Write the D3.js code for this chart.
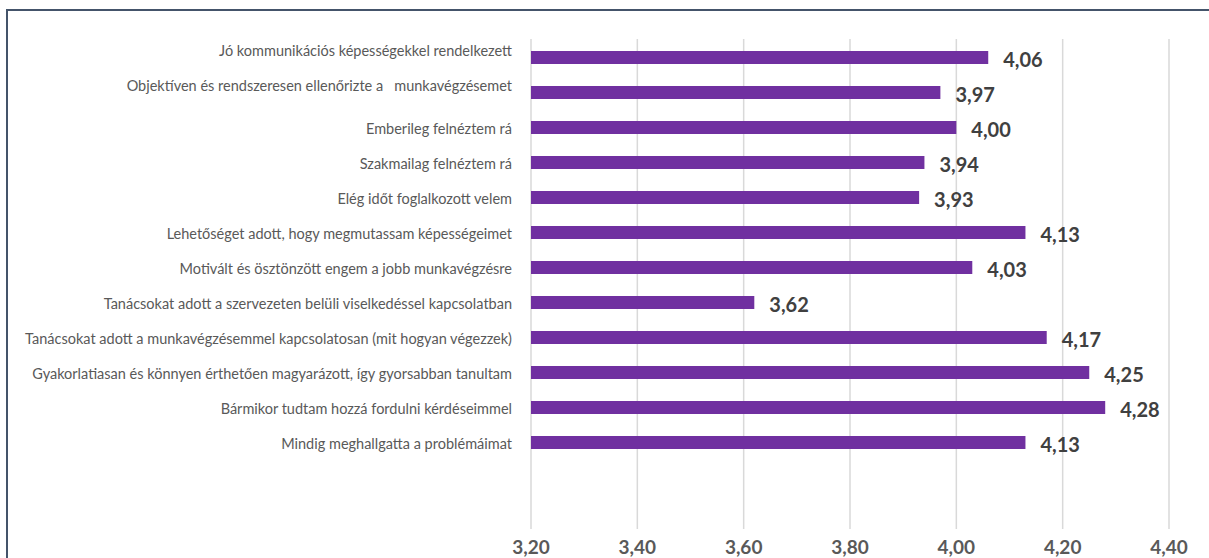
<!DOCTYPE html>
<html>
<head>
<meta charset="utf-8">
<script src="https://cdn.jsdelivr.net/npm/d3@7"></script>
<style>
  html, body { margin: 0; padding: 0; background: #fff; }
  svg { display: block; }
  text { font-family: Lato, "Open Sans", sans-serif; white-space: pre; }
</style>
</head>
<body>
<svg id="chart" width="1209" height="558"></svg>
<script>
// categories top to bottom; a trailing "\n" means the label had an empty second line
const categories = [
    "Jó kommunikációs képességekkel rendelkezett\n",
    "Objektíven és rendszeresen ellenőrizte a   munkavégzésemet\n",
    "Emberileg felnéztem rá",
    "Szakmailag felnéztem rá",
    "Elég időt foglalkozott velem",
    "Lehetőséget adott, hogy megmutassam képességeimet",
    "Motivált és ösztönzött engem a jobb munkavégzésre",
    "Tanácsokat adott a szervezeten belüli viselkedéssel kapcsolatban",
    "Tanácsokat adott a munkavégzésemmel kapcsolatosan (mit hogyan végezzek)",
    "Gyakorlatiasan és könnyen érthetően magyarázott, így gyorsabban tanultam",
    "Bármikor tudtam hozzá fordulni kérdéseimmel",
    "Mindig meghallgatta a problémáimat"
];
const values = [4.06, 3.97, 4.00, 3.94, 3.93, 4.13, 4.03, 3.62, 4.17, 4.25, 4.28, 4.13];
const xTicks = [3.2, 3.4, 3.6, 3.8, 4.0, 4.2, 4.4];
const xDomain = [3.2, 4.4];

const svg = d3.select("#chart");
const fmt = v => d3.format(".2f")(v).replace(".", ",");

// frame (runs off the right and bottom edge)
svg.append("rect")
    .attr("x", 7).attr("y", 10).attr("width", 1240).attr("height", 600)
    .attr("fill", "none").attr("stroke", "#44546a").attr("stroke-width", 2);

const plotTop = 39, plotBottom = 529;
const x = d3.scaleLinear().domain(xDomain).range([531, 1169]);
// 14 slots, the last two stay empty
const slots = categories.map((d, i) => i).concat([12, 13]);
const y = d3.scaleBand().domain(slots).range([plotTop, plotBottom]);

// gridlines
svg.append("g").selectAll("line").data(xTicks).enter().append("line")
    .attr("x1", d => x(d)).attr("x2", d => x(d))
    .attr("y1", plotTop).attr("y2", plotBottom)
    .attr("stroke", "#d9d9d9").attr("stroke-width", 1.5);

// bars
const barH = 13;
svg.append("g").selectAll("rect").data(values).enter().append("rect")
    .attr("x", x(xDomain[0]))
    .attr("y", (d, i) => y(i) + y.bandwidth() / 2 - barH / 2 + 1)
    .attr("width", d => x(d) - x(xDomain[0]))
    .attr("height", barH)
    .attr("fill", "#7030a0");

// value labels
svg.append("g").selectAll("text").data(values).enter().append("text")
    .attr("x", d => x(d) + 15)
    .attr("y", (d, i) => y(i) + y.bandwidth() / 2 + 2)
    .attr("dominant-baseline", "central")
    .attr("font-size", 20).attr("font-weight", "bold")
    .attr("fill", "#404040")
    .text(fmt);

// category labels
const lineH = 16;
const labels = svg.append("g").selectAll("text").data(categories).enter().append("text")
    .attr("text-anchor", "end")
    .attr("font-size", 14.5)
    .attr("fill", "#595959");
labels.each(function(d, i) {
    const lines = d.split("\n");
    const cy = y(i) + y.bandwidth() / 2 + 2;
    const start = cy - (lines.length - 1) * lineH / 2;
    d3.select(this).selectAll("tspan").data(lines).enter().append("tspan")
        .attr("x", 512)
        .attr("y", (l, j) => start + j * lineH)
        .attr("dominant-baseline", "central")
        .text(l => l);
});

// x axis tick labels
svg.append("g").selectAll("text").data(xTicks).enter().append("text")
    .attr("x", d => x(d))
    .attr("y", 546)
    .attr("text-anchor", "middle")
    .attr("dominant-baseline", "central")
    .attr("font-size", 19).attr("font-weight", "bold")
    .attr("fill", "#595959")
    .text(fmt);
</script>
</body>
</html>
